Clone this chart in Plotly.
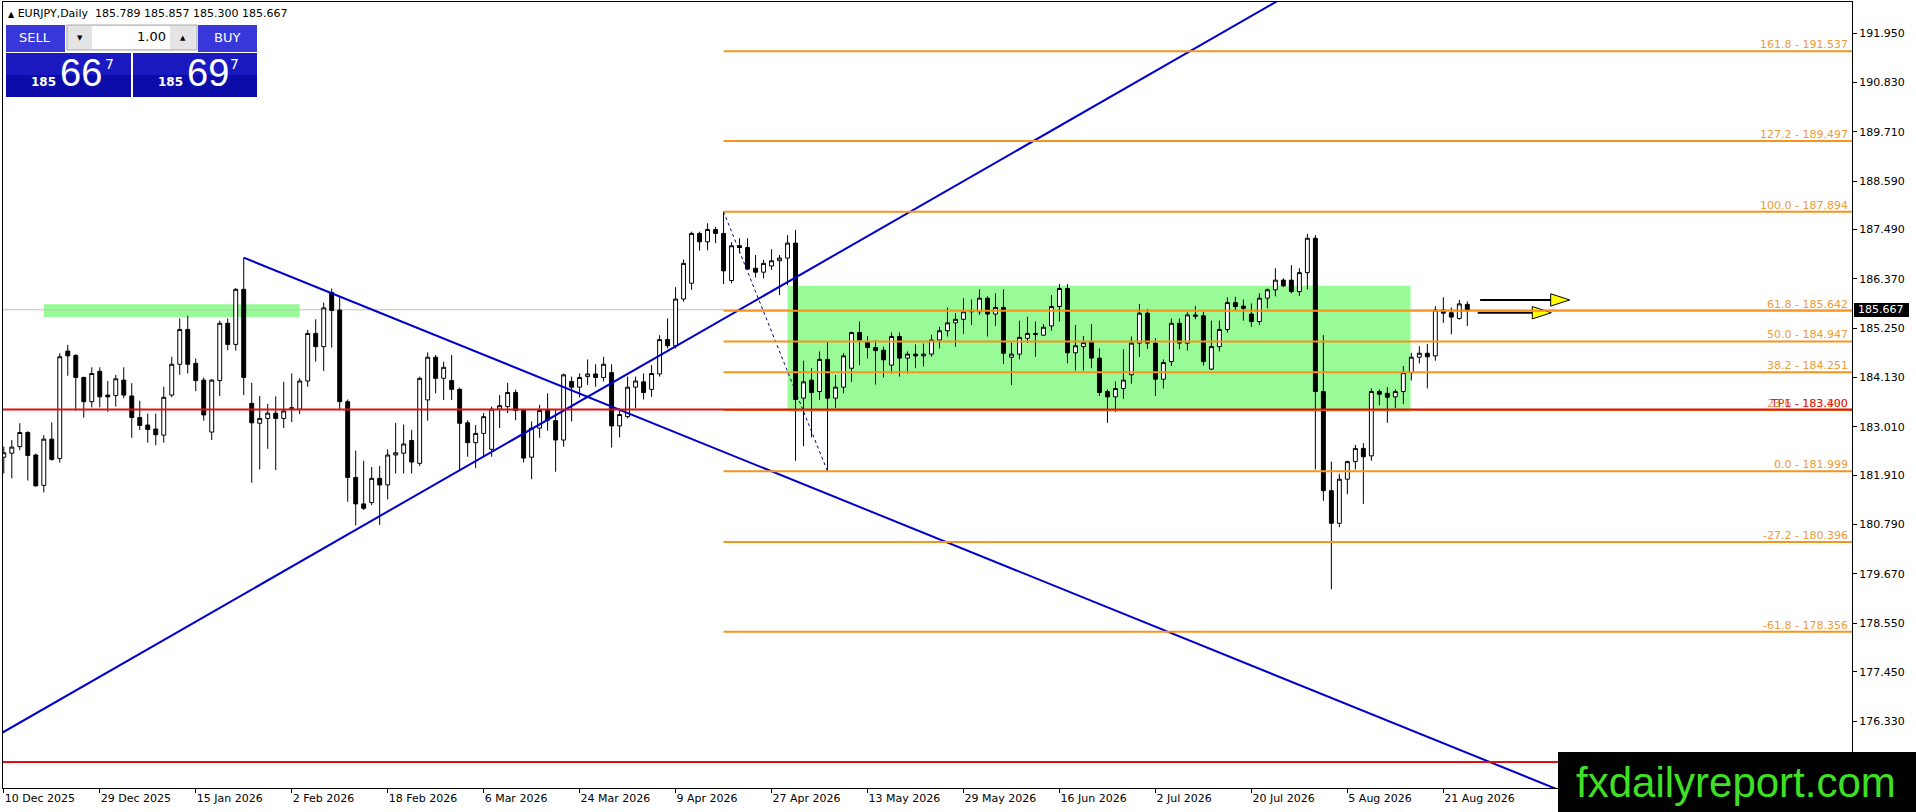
import plotly.graph_objects as go

# canvas / plot area in pixels
W, H = 1916, 812
ML, MR, MT, MB = 3, 64, 2, 24

# daily bars, EURJPY
bar_open = [
    182.32, 182.41, 182.56, 182.88, 182.37, 181.68, 182.73, 182.29, 184.73, 184.63,
    184.13, 183.58, 184.27, 183.73, 183.72, 184.07, 183.71, 183.22, 183.05, 182.96,
    182.82, 183.73, 184.43, 185.22, 184.45, 184.07, 182.89, 184.06, 185.36, 184.88,
    186.13, 183.54, 183.09, 183.20, 183.32, 183.20, 183.42, 183.41, 184.05, 185.13,
    184.83, 186.06, 185.66, 183.58, 181.86, 181.26, 181.29, 181.84, 181.69, 182.37,
    182.41, 182.70, 182.18, 183.62, 184.59, 184.11, 184.06, 183.86, 183.10, 182.65,
    182.86, 182.50, 183.41, 183.47, 183.79, 183.38, 182.32, 182.98, 183.39, 183.15,
    182.71, 184.04, 183.91, 184.15, 184.21, 184.13, 184.24, 183.03, 183.24, 183.91,
    184.03, 183.86, 184.21, 184.99, 184.85, 185.91, 186.27, 187.40, 187.21, 187.49,
    187.40, 186.33, 187.12, 187.08, 186.61, 186.52, 186.66, 186.78, 186.84, 187.18,
    183.66, 184.07, 183.81, 184.54, 183.66, 183.91, 184.34, 185.15, 184.94, 184.81,
    184.75, 184.41, 185.06, 184.57, 184.66, 184.62, 184.66, 184.98, 185.19, 185.37,
    185.45, 185.62, 185.62, 185.93, 185.57, 185.72, 184.59, 184.66, 185.02, 185.13,
    185.09, 185.30, 185.74, 186.15, 184.69, 184.83, 184.94, 184.57, 183.81, 183.69,
    183.88, 184.19, 184.91, 185.59, 184.91, 184.09, 184.49, 185.36, 184.91, 185.55,
    185.53, 184.32, 184.83, 185.22, 185.83, 185.75, 185.57, 185.40, 185.93, 186.12,
    186.34, 186.34, 186.08, 186.51, 187.29, 183.81, 181.56, 180.82, 181.82, 182.22,
    182.52, 182.35, 183.81, 183.77, 183.69, 183.81, 184.24, 184.59, 184.68, 184.62,
    185.66, 185.60, 185.47, 185.789,
]
bar_high = [
    182.56, 182.71, 183.09, 182.91, 182.40, 182.82, 183.11, 184.68, 184.87, 184.66,
    184.15, 184.36, 184.36, 184.05, 184.19, 184.36, 184.00, 183.60, 183.31, 183.31,
    183.92, 184.60, 185.47, 185.53, 184.56, 184.13, 184.09, 185.42, 185.47, 186.16,
    186.85, 184.01, 183.71, 183.53, 183.70, 184.03, 184.22, 184.11, 185.21, 185.45,
    185.83, 186.15, 185.96, 183.63, 182.47, 182.24, 182.10, 182.12, 182.50, 183.10,
    183.06, 182.94, 184.15, 184.70, 184.64, 184.49, 184.64, 183.90, 183.16, 183.05,
    183.32, 183.47, 183.73, 184.01, 183.85, 183.39, 183.13, 183.51, 183.77, 183.39,
    184.22, 184.15, 184.22, 184.54, 184.43, 184.60, 184.43, 183.43, 184.15, 184.15,
    184.22, 184.41, 185.09, 185.47, 186.18, 186.81, 187.44, 187.44, 187.63, 187.55,
    187.894, 187.20, 187.29, 187.29, 186.91, 186.80, 187.04, 186.91, 187.36, 187.48,
    184.51, 184.34, 184.72, 184.94, 184.19, 184.68, 185.17, 185.40, 185.07, 184.98,
    184.83, 185.15, 185.15, 184.72, 184.88, 184.90, 185.10, 185.28, 185.72, 185.59,
    185.93, 185.90, 186.13, 185.97, 186.04, 186.13, 184.92, 185.42, 185.51, 185.40,
    185.34, 186.00, 186.25, 186.25, 185.32, 185.07, 185.34, 184.79, 183.86, 184.04,
    184.77, 185.06, 185.80, 185.68, 185.02, 184.54, 185.47, 185.47, 185.61, 185.75,
    185.62, 185.42, 185.42, 185.95, 185.96, 185.90, 185.81, 186.04, 186.15, 186.61,
    186.38, 186.68, 186.61, 187.39, 187.36, 185.09, 182.22, 181.94, 182.24, 182.60,
    182.64, 183.88, 183.86, 183.91, 183.86, 184.39, 184.69, 184.84, 184.89, 185.75,
    185.95, 185.72, 185.89, 185.857,
]
bar_low = [
    181.95, 181.84, 182.48, 181.79, 181.65, 181.52, 182.24, 182.20, 184.17, 183.38,
    183.22, 183.45, 183.45, 183.35, 183.47, 183.66, 182.76, 182.94, 182.65, 182.59,
    182.65, 183.68, 184.19, 184.22, 183.82, 183.15, 182.71, 183.71, 184.75, 184.74,
    183.73, 181.74, 182.04, 182.51, 182.03, 182.98, 183.12, 183.30, 183.92, 184.49,
    184.28, 184.81, 183.39, 181.31, 180.77, 181.12, 181.23, 180.78, 181.36, 181.95,
    181.95, 181.95, 182.12, 183.15, 183.77, 183.62, 183.62, 182.01, 182.33, 182.07,
    182.33, 182.33, 182.98, 183.32, 183.16, 182.20, 181.82, 182.76, 182.92, 181.99,
    182.56, 183.13, 183.68, 183.96, 183.92, 184.04, 182.54, 182.77, 183.20, 183.43,
    183.63, 183.69, 184.15, 184.79, 184.79, 185.85, 186.12, 187.01, 187.02, 187.18,
    186.25, 186.27, 186.95, 186.57, 186.40, 186.38, 186.57, 186.00, 186.23, 182.24,
    182.57, 182.77, 183.62, 181.999, 183.43, 183.77, 184.03, 184.41, 184.56, 183.97,
    184.13, 184.22, 184.15, 184.22, 184.34, 184.38, 184.60, 184.79, 185.06, 184.83,
    185.12, 185.32, 185.55, 185.06, 185.30, 184.44, 183.96, 184.54, 184.92, 184.60,
    185.08, 185.19, 185.40, 184.45, 184.29, 184.29, 184.34, 183.71, 183.10, 183.35,
    183.64, 183.99, 184.60, 184.78, 183.71, 183.88, 184.39, 184.77, 184.74, 185.45,
    184.40, 184.30, 184.72, 185.15, 185.66, 185.42, 185.28, 185.32, 185.70, 185.97,
    186.18, 186.04, 185.98, 186.13, 182.04, 181.33, 179.32, 180.73, 181.48, 182.04,
    181.26, 182.24, 183.50, 183.10, 183.43, 183.53, 184.06, 184.45, 183.88, 184.51,
    185.37, 185.11, 185.44, 185.300,
]
bar_close = [
    182.42, 182.55, 182.88, 182.36, 181.67, 182.73, 182.27, 184.60, 184.62, 184.13,
    183.58, 184.22, 183.69, 183.69, 184.10, 183.73, 183.22, 183.04, 182.95, 182.83,
    183.68, 184.43, 185.22, 184.43, 184.06, 183.28, 184.07, 185.36, 184.88, 186.13,
    184.13, 183.10, 183.20, 183.32, 183.20, 183.37, 183.44, 184.05, 185.13, 184.83,
    185.71, 185.65, 183.58, 181.86, 181.26, 181.16, 181.84, 181.69, 182.37, 182.42,
    182.62, 182.21, 184.11, 184.59, 184.11, 184.36, 183.86, 183.09, 182.65, 182.86,
    183.24, 183.41, 183.49, 183.79, 183.38, 182.30, 182.98, 183.38, 183.16, 182.71,
    184.19, 183.91, 184.13, 184.21, 184.13, 184.43, 183.03, 183.29, 183.91, 184.05,
    183.79, 184.22, 184.99, 184.85, 185.91, 186.72, 187.40, 187.21, 187.49, 187.40,
    186.55, 187.12, 187.08, 186.59, 186.52, 186.72, 186.78, 186.84, 187.18, 183.63,
    184.03, 183.79, 184.54, 183.66, 183.91, 184.62, 185.15, 184.98, 184.81, 184.74,
    184.53, 185.06, 184.57, 184.66, 184.62, 184.66, 184.98, 185.19, 185.37, 185.45,
    185.62, 185.63, 185.93, 185.57, 185.72, 184.68, 184.66, 185.04, 185.13, 185.11,
    185.27, 185.74, 186.15, 184.69, 184.85, 184.92, 184.57, 183.79, 183.69, 183.88,
    184.07, 184.91, 185.59, 184.91, 184.09, 184.47, 185.36, 184.91, 185.55, 185.52,
    184.49, 184.83, 185.22, 185.83, 185.74, 185.70, 185.40, 185.93, 186.12, 186.34,
    186.21, 186.08, 186.51, 187.29, 183.81, 181.56, 180.82, 181.82, 182.22, 182.52,
    182.33, 183.81, 183.75, 183.68, 183.81, 184.24, 184.59, 184.68, 184.60, 185.66,
    185.59, 185.50, 185.80, 185.667,
]

date_ticks = [0, 12, 24, 36, 48, 60, 72, 84, 96, 108, 120, 132, 144, 156, 168, 180]
date_labels = [
    "10 Dec 2025", "29 Dec 2025", "15 Jan 2026", "2 Feb 2026", "18 Feb 2026",
    "6 Mar 2026", "24 Mar 2026", "9 Apr 2026", "27 Apr 2026", "13 May 2026",
    "29 May 2026", "16 Jun 2026", "2 Jul 2026", "20 Jul 2026", "5 Aug 2026",
    "21 Aug 2026",
]
price_ticks = [191.950, 190.830, 189.710, 188.590, 187.490, 186.370, 185.250, 184.130,
               183.010, 181.910, 180.790, 179.670, 178.550, 177.450, 176.330]

# drawing objects
fib_ratio = ["161.8", "127.2", "100.0", "61.8", "50.0", "38.2", "23.6", "0.0", "-27.2", "-61.8"]
fib_price = [191.537, 189.497, 187.894, 185.642, 184.947, 184.251, 183.390, 181.999, 180.396, 178.356]
fib_from_bar = 90
fib_swing_bars = [90, 103]
fib_swing_prices = [187.894, 181.999]

tp1_price = 183.400
low_red_price = 175.40
bid_price = 185.667

up_line_bars = [44, 99]
up_line_prices = [180.67, 186.40]
down_line_bars = [30, 116]
down_line_prices = [186.85, 180.53]

zones = [  # bar from, bar to, price low, price high
    (5.0, 37.0, 185.50, 185.79),
    (98.0, 175.9, 183.35, 186.21),
]

arrow_start = [184.6, 184.3]
arrow_tip = [195.8, 193.5]
arrow_price = [185.89, 185.60]

X_MIN, X_MAX = -0.1, 231.1
Y_MIN, Y_MAX = 174.81, 192.654


def pxx(xp):
    return (xp - ML) / (W - ML - MR)


def pxy(yp):
    return (H - MB - yp) / (H - MT - MB)


def extend(bars, prices, x_from, x_to):
    k = (prices[1] - prices[0]) / (bars[1] - bars[0])
    return [x_from, x_to], [prices[0] + k * (x_from - bars[0]), prices[0] + k * (x_to - bars[0])]


fig = go.Figure()

fig.add_trace(go.Candlestick(
    x=list(range(len(bar_open))), open=bar_open, high=bar_high, low=bar_low, close=bar_close,
    increasing=dict(line=dict(color="black", width=1), fillcolor="white"),
    decreasing=dict(line=dict(color="black", width=1), fillcolor="black"),
    whiskerwidth=0, hoverinfo="skip", showlegend=False,
))

# trend lines
ux, uy = extend(up_line_bars, up_line_prices, X_MIN - 1, X_MAX + 1)
fig.add_trace(go.Scatter(x=ux, y=uy, mode="lines", line=dict(color="#0000CD", width=2),
                         hoverinfo="skip", showlegend=False))
dx, dy = extend(down_line_bars, down_line_prices, down_line_bars[0], X_MAX + 1)
fig.add_trace(go.Scatter(x=dx, y=dy, mode="lines", line=dict(color="#0000CD", width=2),
                         hoverinfo="skip", showlegend=False))

# fibo swing (dotted)
fig.add_trace(go.Scatter(x=fib_swing_bars, y=fib_swing_prices, mode="lines",
                         line=dict(color="#000080", width=1, dash="dot"),
                         hoverinfo="skip", showlegend=False))

# arrows
for xs, xt, yp in zip(arrow_start, arrow_tip, arrow_price):
    fig.add_trace(go.Scatter(x=[xs, xt - 0.8], y=[yp, yp], mode="lines",
                             line=dict(color="black", width=2),
                             hoverinfo="skip", showlegend=False))
    fig.add_trace(go.Scatter(x=[xt], y=[yp], mode="markers",
                             marker=dict(symbol="arrow", angle=90, size=20, color="#FFFF00",
                                         line=dict(color="black", width=1)),
                             hoverinfo="skip", showlegend=False))

shapes = []
for x0, x1, y0, y1 in zones:
    shapes.append(dict(type="rect", xref="x", yref="y", x0=x0, x1=x1, y0=y0, y1=y1,
                       fillcolor="#98FB98", line=dict(width=0), layer="below"))

shapes.append(dict(type="line", xref="x", yref="y", x0=X_MIN, x1=X_MAX, y0=bid_price, y1=bid_price,
                   line=dict(color="#C0C0C0", width=1), layer="below"))

for p in fib_price:
    shapes.append(dict(type="line", xref="x", yref="y", x0=fib_from_bar, x1=X_MAX, y0=p, y1=p,
                       line=dict(color="#F7941D", width=2), layer="above"))

for p in [tp1_price, low_red_price]:
    shapes.append(dict(type="line", xref="x", yref="y", x0=X_MIN, x1=X_MAX, y0=p, y1=p,
                       line=dict(color="#E01010", width=2), layer="above"))

annotations = []
for r, p in zip(fib_ratio, fib_price):
    annotations.append(dict(xref="paper", yref="y", x=1, y=p, xanchor="right", yanchor="bottom",
                            xshift=-2, yshift=-2, showarrow=False, text=f"{r} - {p:.3f}",
                            font=dict(family="DejaVu Sans", size=11, color="#EE9A35")))
annotations.append(dict(xref="paper", yref="y", x=1, y=tp1_price, xanchor="right", yanchor="bottom",
                        xshift=-2, yshift=-2, showarrow=False, text=f"TP1 - {tp1_price:.3f}",
                        font=dict(family="DejaVu Sans", size=11, color="#E02020")))

# current price tag on the axis
shapes.append(dict(type="rect", xref="paper", yref="paper", x0=pxx(1854), x1=pxx(1909),
                   y0=pxy(317), y1=pxy(303), fillcolor="black", line=dict(width=0)))
annotations.append(dict(xref="paper", yref="paper", x=pxx(1856), y=pxy(310), xanchor="left",
                        yanchor="middle", showarrow=False, text=f"{bid_price:.3f}",
                        font=dict(family="DejaVu Sans", size=11, color="white")))

# header
annotations.append(dict(xref="paper", yref="paper", x=pxx(6), y=pxy(13), xanchor="left",
                        yanchor="middle", showarrow=False,
                        text="<span style='font-size:8px'>▲</span> EURJPY,Daily  185.789 185.857 185.300 185.667",
                        font=dict(family="DejaVu Sans", size=11, color="black")))

# one-click trading panel
def rect(x0, y0, x1, y1, fill, border=None):
    shapes.append(dict(type="rect", xref="paper", yref="paper", x0=pxx(x0), x1=pxx(x1),
                       y0=pxy(y1), y1=pxy(y0), fillcolor=fill,
                       line=dict(width=1 if border else 0, color=border or fill)))


def label(x, y, text, size, color="white", family="DejaVu Sans", anchor="center"):
    annotations.append(dict(xref="paper", yref="paper", x=pxx(x), y=pxy(y), xanchor=anchor,
                            yanchor="middle", showarrow=False, text=text,
                            font=dict(family=family, size=size, color=color)))


rect(6, 25, 65, 52, "#3838DA")
rect(198, 25, 257, 52, "#3838DA")
rect(67, 25, 197, 50, "#E4E4E4", "#A8A8A8")
rect(92, 26, 170, 49, "white")
rect(6, 53, 131, 97, "#1A1AC0")
rect(133, 53, 257, 97, "#1A1AC0")
rect(6, 75, 131, 97, "#0C0CA8")
rect(133, 75, 257, 97, "#0C0CA8")
label(35, 38, "SELL", 13)
label(227, 38, "BUY", 13)
label(80, 38, "▼", 7, "black")
label(183, 38, "▲", 7, "black")
label(168, 37, "1.00", 13, "black", anchor="right")
label(43, 82, "<b>185</b>", 12)
label(81, 73, "66", 38, family="Liberation Sans")
label(109, 64, "7", 14)
label(170, 82, "<b>185</b>", 12)
label(208, 73, "69", 38, family="Liberation Sans")
label(235, 64, "7", 14)

# watermark
shapes.append(dict(type="rect", xref="paper", yref="paper", x0=pxx(1558), x1=pxx(1920),
                   y0=pxy(816), y1=pxy(752), fillcolor="black", line=dict(width=0)))
label(1736, 782, "fxdailyreport.com", 42, "#3FE024", family="Liberation Sans")

fig.update_layout(
    width=W, height=H,
    margin=dict(l=ML, r=MR, t=MT, b=MB),
    paper_bgcolor="white", plot_bgcolor="white",
    shapes=shapes, annotations=annotations,
    showlegend=False,
    font=dict(family="DejaVu Sans", size=11, color="black"),
    xaxis=dict(
        range=[X_MIN, X_MAX], tickvals=date_ticks, ticktext=date_labels,
        ticks="outside", ticklen=4, tickcolor="black", ticklabelposition="outside right",
        showgrid=False, zeroline=False, showline=True, mirror=True, linecolor="black",
        linewidth=1, rangeslider=dict(visible=False), fixedrange=True,
        tickfont=dict(family="DejaVu Sans", size=11, color="black"),
    ),
    yaxis=dict(
        range=[Y_MIN, Y_MAX], side="right", tickvals=price_ticks,
        ticktext=[f"{v:.3f}" for v in price_ticks],
        ticks="outside", ticklen=4, tickcolor="black",
        showgrid=False, zeroline=False, showline=True, mirror=True, linecolor="black",
        linewidth=1, fixedrange=True,
        tickfont=dict(family="DejaVu Sans", size=11, color="black"),
    ),
)

fig.write_html("out.html", config=dict(displayModeBar=False),
               post_script="document.body.style.margin='0';document.body.style.overflow='hidden';")
